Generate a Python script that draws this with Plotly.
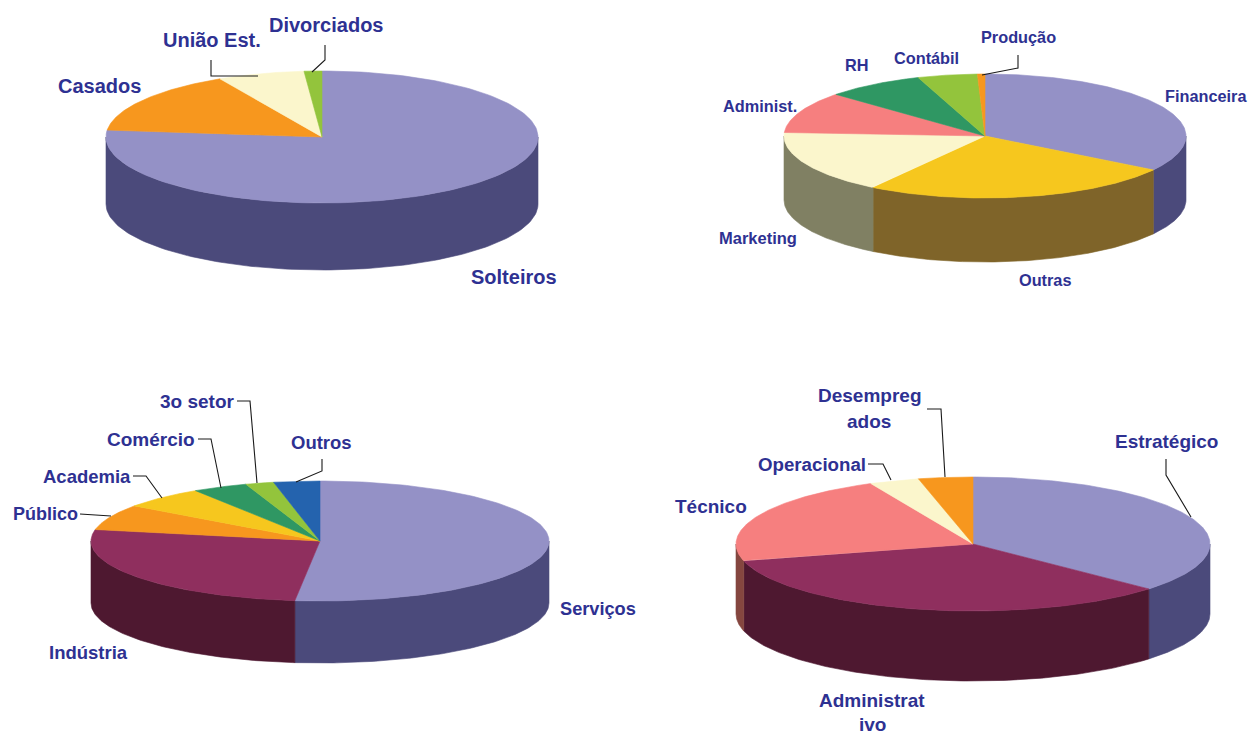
import numpy as np
import plotly.graph_objects as go

# ---- data (percent shares, clockwise from 12 o'clock) ----
civil_labels = ["Solteiros", "Casados", "União Est.", "Divorciados"]
civil_values = [76.67, 15.5, 6.5, 1.33]
area_labels = ["Financeira", "Outras", "Marketing", "Administ.", "RH", "Contábil", "Produção"]
area_values = [34.2, 25.2, 16.5, 10.8, 7.9, 4.8, 0.6]
setor_labels = ["Serviços", "Indústria", "Público", "Academia", "Comércio", "3o setor", "Outros"]
setor_values = [51.75, 26.3, 6.9, 5.9, 3.9, 2.0, 3.25]
nivel_labels = ["Estratégico", "Administrat", "ivo", "Técnico", "Operacional", "Desempreg", "ados"]
nivel_values = [36.7, 34.2, 22.0, 3.4, 3.7]

# ---- styles ----
PURPLE, PURPLE_D = "#9491C6", "#4B4A7B"
civil_top = [PURPLE, "#F7971E", "#FBF6CC", "#93C43C"]
civil_side = [PURPLE_D, "#7C4C0F", "#7E7B66", "#4A621E"]
area_top = [PURPLE, "#F6C71E", "#FBF6CC", "#F67F7F", "#2F9763", "#93C43C", "#F7971E"]
area_side = [PURPLE_D, "#7F6429", "#808063", "#7B4040", "#184C32", "#4A621E", "#7C4C0F"]
setor_top = [PURPLE, "#8F2F5E", "#F7971E", "#F6C71E", "#2F9763", "#93C43C", "#2463AE"]
setor_side = [PURPLE_D, "#4E1830", "#7C4C0F", "#7F6429", "#184C32", "#4A621E", "#123257"]
nivel_top = [PURPLE, "#8F2F5E", "#F67F7F", "#FBF6CC", "#F7971E"]
nivel_side = [PURPLE_D, "#4E1830", "#85463F", "#7E7B66", "#7C4C0F"]
INK = "#2E3192"

# geometry: centre x, centre y, radius x, radius y, depth (pixel-mapped axes)
charts = [
    (civil_values, civil_top, civil_side, (322, 137, 216, 66, 67)),
    (area_values, area_top, area_side, (985, 136, 201, 62, 64)),
    (setor_values, setor_top, setor_side, (320, 541, 229, 60, 62)),
    (nivel_values, nivel_top, nivel_side, (973, 544, 237, 67, 70)),
]

fig = go.Figure()


def face(xs, ys, colour):
    fig.add_trace(go.Scatter(x=xs, y=ys, mode="lines", fill="toself", fillcolor=colour,
                             line=dict(color=colour, width=0.6), hoverinfo="skip",
                             showlegend=False))


for values, tops, sides, (cx, cy, rx, ry, depth) in charts:
    edges = np.concatenate([[0], np.cumsum(values)]) / np.sum(values) * 2 * np.pi
    # walls of the front half
    for a, b, col in zip(edges[:-1], edges[1:], sides):
        lo, hi = max(a, np.pi / 2), min(b, 3 * np.pi / 2)
        if hi <= lo:
            continue
        t = np.linspace(lo, hi, 120)
        x = cx + rx * np.sin(t)
        y = cy - ry * np.cos(t)
        face(np.r_[x, x[::-1], x[0]], np.r_[y, y[::-1] + depth, y[0]], col)
    # top surface
    for a, b, col in zip(edges[:-1], edges[1:], tops):
        t = np.linspace(a, b, 160)
        face(np.r_[cx, cx + rx * np.sin(t), cx], np.r_[cy, cy - ry * np.cos(t), cy], col)

# labels: (text, x, y, size)
placements = [
    (civil_labels[0], 514, 277, 20), (civil_labels[1], 99, 86, 20),
    (civil_labels[2], 212, 40, 20), (civil_labels[3], 326, 25, 20),
    (area_labels[0], 1206, 96, 16.3), (area_labels[1], 1045, 280, 16.3),
    (area_labels[2], 758, 238, 16.5), (area_labels[3], 760, 106, 16.3),
    (area_labels[4], 857, 65, 16.3), (area_labels[5], 926, 58, 16.3),
    (area_labels[6], 1018, 37, 16.3),
    (setor_labels[0], 598, 609, 18.2), (setor_labels[1], 88, 652, 18.5),
    (setor_labels[2], 45, 514, 18), (setor_labels[3], 87, 476, 18.5),
    (setor_labels[4], 151, 439, 19), (setor_labels[5], 197, 401, 19),
    (setor_labels[6], 321, 442, 18.5),
    (nivel_labels[0], 1166, 441, 19), (nivel_labels[1], 872, 700, 19),
    (nivel_labels[2], 872, 724, 19),
    (nivel_labels[3], 711, 506, 19), (nivel_labels[4], 812, 464, 18.7),
    (nivel_labels[5], 870, 395, 19), (nivel_labels[6], 869, 421, 19),
]
annotations = [dict(x=x, y=y, xref="x", yref="y", text=f"<b>{s}</b>", showarrow=False,
                    xanchor="center", yanchor="middle", align="center",
                    font=dict(family="Liberation Sans", size=sz, color=INK))
               for s, x, y, sz in placements]

leaders = [
    "M211,60 L211,76 L258,76", "M325,45 L325,60 L312,72",
    "M1018,55 L1018,68 L982,75",
    "M80,514 L111,516", "M133,476 L146,476 L162,498", "M198,439 L211,439 L221,488",
    "M237,401 L250,401 L257,483", "M322,459 L322,471 L296,482",
    "M927,409 L941,409 L945,477", "M868,464 L883,464 L891,480",
    "M1166,459 L1166,475 L1191,517",
]
shapes = [dict(type="path", path=p, xref="x", yref="y", line=dict(color="#1A1A1A", width=1.1))
          for p in leaders]

fig.update_layout(
    width=1248, height=734, margin=dict(l=0, r=0, t=0, b=0),
    paper_bgcolor="white", plot_bgcolor="white", showlegend=False,
    annotations=annotations, shapes=shapes,
    xaxis=dict(range=[0, 1248], visible=False, fixedrange=True),
    yaxis=dict(range=[734, 0], visible=False, fixedrange=True),
)
fig.write_html("out.html", config={"displayModeBar": False},
               post_script="document.body.style.margin='0';")
